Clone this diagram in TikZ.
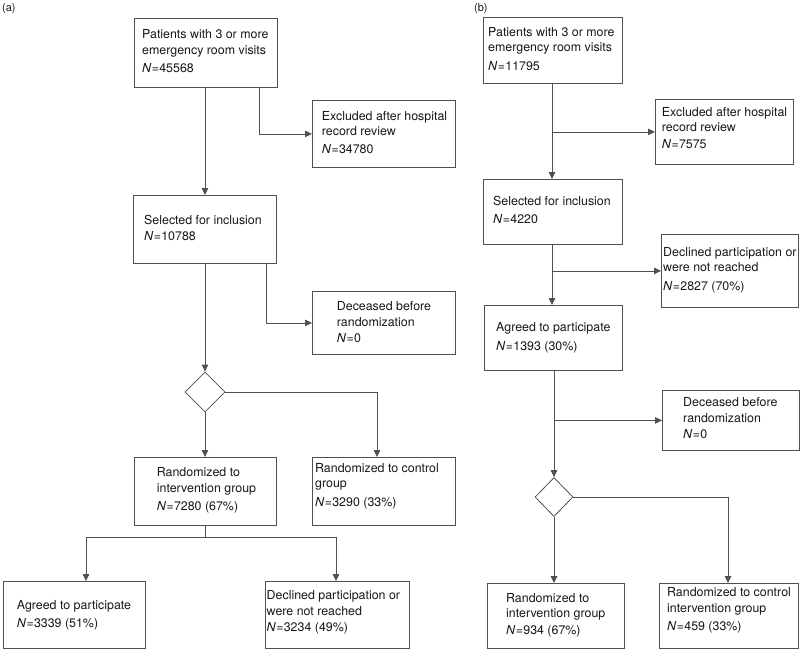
\documentclass[tikz,border=0pt]{standalone}
\usepackage{fontspec}
\setmainfont{TeX Gyre Heros}
\usetikzlibrary{arrows.meta,shapes.geometric,calc}
\definecolor{lncol}{RGB}{80,80,80}
\definecolor{txcol}{RGB}{25,22,23}
\newcommand\mlines[1]{\vtop{\baselineskip=0pt\lineskip=0pt\lineskiplimit=-1000pt\relax #1}}
\newcommand\Nv{\textit{N}\kern0.3pt=\kern0.3pt}
\begin{document}
\begin{tikzpicture}[x=1pt,y=-1pt,
  box/.style={draw=lncol, line width=0.8pt, rectangle, inner sep=0pt, anchor=north west},
  txt/.style={text=txcol, inner sep=0pt, anchor=base west, font=\fontsize{12.4}{15}\selectfont},
  lab/.style={text=txcol, inner sep=0pt, anchor=base west, font=\fontsize{11}{13}\selectfont},
  dia/.style={draw=lncol, line width=0.8pt, diamond, inner sep=0pt, minimum width=40pt, minimum height=40pt},
  arr/.style={draw=lncol, line width=0.8pt, -{Triangle[length=7pt,width=6.5pt]}},
  conn/.style={draw=lncol, line width=0.8pt}]
\useasboundingbox (0,0) rectangle (800,649);

% ---------- panel (a) ----------
\node[lab] (la) at (2,11.3) {(a)};
\node[box, minimum width=143pt, minimum height=68.5pt] (A1) at (134,18) {};
\node[box, minimum width=143pt, minimum height=67pt] (A2) at (312,100) {};
\node[box, minimum width=143pt, minimum height=68pt] (A3) at (133,195) {};
\node[box, minimum width=143pt, minimum height=63pt] (A4) at (312,291) {};
\node[dia] (D1) at (205,392) {};
\node[box, minimum width=142pt, minimum height=68pt] (A5) at (134,457) {};
\node[box, minimum width=143pt, minimum height=68pt] (A6) at (312,457) {};
\node[box, minimum width=142pt, minimum height=66.5pt] (A7) at (3,581) {};
\node[box, minimum width=144pt, minimum height=66.5pt] (A8) at (265,581) {};

\node[txt] (A1t) at (142,38.7) {\mlines{\hbox{Patients with 3 or more}\vskip15.6pt\hbox{emergency room visits}\vskip18.4pt\hbox{\Nv45568}}};
\node[txt] (A2t) at (321.7,120) {\mlines{\hbox{Excluded after hospital}\vskip15pt\hbox{record review}\vskip18.3pt\hbox{\Nv34780}}};
\node[txt] (A3t) at (144,224) {\mlines{\hbox{Selected for inclusion}\vskip16.7pt\hbox{\Nv10788}}};
\node[txt] (A4t) at (336.7,310.7) {\mlines{\hbox{Deceased before}\vskip15.3pt\hbox{randomization}\vskip16pt\hbox{\Nv0}}};
\node[txt] (A5t) at (156.7,476.7) {\mlines{\hbox{Randomized to}\vskip16pt\hbox{intervention group}\vskip18pt\hbox{\Nv7280 (67\%)}}};
\node[txt] (A6t) at (315,472.3) {\mlines{\hbox{Randomized to control}\vskip15.2pt\hbox{group}\vskip18.5pt\hbox{\Nv3290 (33\%)}}};
\node[txt] (A7t) at (16.7,609) {\mlines{\hbox{Agreed to participate}\vskip18.3pt\hbox{\Nv3339 (51\%)}}};
\node[txt] (A8t) at (266.5,599.3) {\mlines{\hbox{Declined participation or}\vskip15.7pt\hbox{were not reached}\vskip16pt\hbox{\Nv3234 (49\%)}}};

\draw[arr] (A1.south -| D1.north) -- (A3.north -| D1.north);
\draw[arr] ($(A1.south west)+(125,0)$) |- (A2.west);
\draw[arr] (A3.south -| D1.north) -- (D1.north);
\draw[arr] ($(A3.south west)+(133,0)$) |- (A4.west);
\draw[arr] (D1.south) -- (A5.north -| D1.south);
\draw[arr] (D1.east) -| ($(A6.north west)+(65,0)$);
\coordinate (A5j) at ($(A5.south -| D1.south)+(0,11.7)$);
\draw[conn] (A5.south -| D1.south) -- (A5j);
\draw[arr] (A5j) -| ($(A7.north west)+(83,0)$);
\draw[arr] (A5j) -| ($(A8.north west)+(71,0)$);

% ---------- panel (b) ----------
\node[lab] (lb) at (474,11.3) {(b)};
\node[box, minimum width=139pt, minimum height=66pt] (B1) at (483,17) {};
\node[box, minimum width=138pt, minimum height=65pt] (B2) at (655,99) {};
\node[box, minimum width=139pt, minimum height=65pt] (B3) at (483,179) {};
\node[box, minimum width=137pt, minimum height=73pt] (B4) at (661,234) {};
\node[box, minimum width=138pt, minimum height=65pt] (B5) at (484,305) {};
\node[box, minimum width=137pt, minimum height=60pt] (B6) at (662,390) {};
\node[dia, minimum width=38pt, minimum height=39pt] (D2) at (554,497) {};
\node[box, minimum width=137pt, minimum height=65pt] (B7) at (487,583) {};
\node[box, minimum width=139pt, minimum height=65pt] (B8) at (659,583) {};

\node[txt] (B1t) at (488,36.7) {\mlines{\hbox{Patients with 3 or more}\vskip15pt\hbox{emergency room visits}\vskip18.3pt\hbox{\Nv11795}}};
\node[txt] (B2t) at (661.7,116.7) {\mlines{\hbox{Excluded after hospital}\vskip14.5pt\hbox{record review}\vskip17.3pt\hbox{\Nv7575}}};
\node[txt] (B3t) at (493,205) {\mlines{\hbox{Selected for inclusion}\vskip18.3pt\hbox{\Nv4220}}};
\node[txt] (B4t) at (663,256.7) {\mlines{\hbox{Declined participation or}\vskip15pt\hbox{were not reached}\vskip19pt\hbox{\Nv2827 (70\%)}}};
\node[txt] (B5t) at (496,331) {\mlines{\hbox{Agreed to participate}\vskip19pt\hbox{\Nv1393 (30\%)}}};
\node[txt] (B6t) at (683,406.7) {\mlines{\hbox{Deceased before}\vskip15.6pt\hbox{randomization}\vskip16pt\hbox{\Nv0}}};
\node[txt] (B7t) at (506,602.7) {\mlines{\hbox{Randomized to}\vskip15pt\hbox{intervention group}\vskip16.3pt\hbox{\Nv934 (67\%)}}};
\node[txt] (B8t) at (667,596.7) {\mlines{\hbox{Randomized to control}\vskip15.6pt\hbox{intervention group}\vskip17.7pt\hbox{\Nv459 (33\%)}}};

\coordinate (B1c) at ($(B1.south west)+(69,0)$);
\draw[arr] (B1c) -- (B1c |- B3.north);
\draw[arr] (B1c |- B2.west) -- (B2.west);
\coordinate (B3c) at ($(B3.south west)+(69,0)$);
\draw[arr] (B3c) -- (B3c |- B5.north);
\draw[arr] (B3c |- B4.west) -- (B4.west);
\draw[arr] (D2.north |- B5.south) -- (D2.north);
\draw[arr] (D2.north |- B6.west) -- (B6.west);
\draw[arr] (D2.south) -- (D2.south |- B7.north);
\draw[arr] (D2.east) -| ($(B8.north west)+(69,0)$);
\end{tikzpicture}
\end{document}
